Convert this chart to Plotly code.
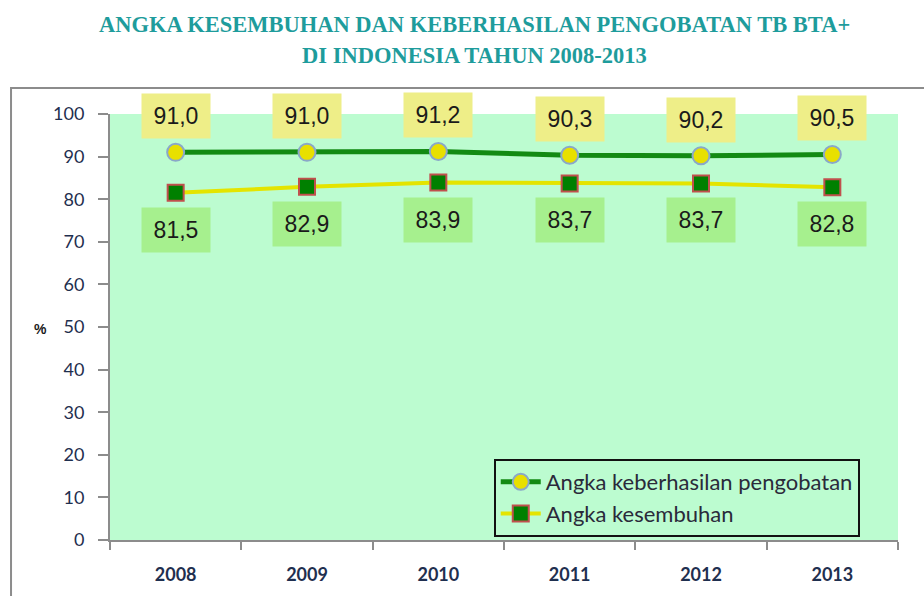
import plotly.graph_objects as go

years = ["2008", "2009", "2010", "2011", "2012", "2013"]
keberhasilan = [91.0, 91.0, 91.2, 90.3, 90.2, 90.5]
kesembuhan = [81.5, 82.9, 83.9, 83.7, 83.7, 82.8]
y_ticks = [0, 10, 20, 30, 40, 50, 60, 70, 80, 90, 100]

name1 = "Angka keberhasilan pengobatan"
name2 = "Angka kesembuhan"

fig = go.Figure()
fig.add_trace(go.Scatter(
    x=years, y=keberhasilan, name=name1, mode="lines+markers",
    line=dict(color="#138a13", width=5),
    marker=dict(symbol="circle", size=17, color="#e8e000",
                line=dict(color="#8aa8c8", width=2)),
))
fig.add_trace(go.Scatter(
    x=years, y=kesembuhan, name=name2, mode="lines+markers",
    line=dict(color="#e4e400", width=4),
    marker=dict(symbol="square", size=16, color="#008000",
                line=dict(color="#c0504d", width=2)),
))

def fmt(v):
    return f"{v:.1f}".replace(".", ",")

for i, v in enumerate(keberhasilan):
    fig.add_annotation(x=i, y=v, text=fmt(v), showarrow=False, yshift=36,
                       bgcolor="#eeee88", width=64, height=40, borderpad=2,
                       font=dict(family="Liberation Sans", size=23, color="#1a1a1a"))
for i, v in enumerate(kesembuhan):
    fig.add_annotation(x=i, y=v, text=fmt(v), showarrow=False, yshift=-37,
                       bgcolor="#a6f08e", width=64, height=40, borderpad=2,
                       font=dict(family="Liberation Sans", size=23, color="#1a1a1a"))

fig.add_annotation(xref="paper", yref="paper", x=-0.099, y=0.495, text="<b>%</b>",
                   showarrow=False, font=dict(family="Liberation Sans", size=14, color="#1a1a1a"))

fig.add_annotation(xref="paper", yref="paper", x=0.463, y=1.0, yshift=90,
                   text="<b>ANGKA KESEMBUHAN DAN KEBERHASILAN PENGOBATAN TB BTA+</b>",
                   showarrow=False, yanchor="middle",
                   font=dict(family="Liberation Serif", size=22.5, color="#1e9c9c"))
fig.add_annotation(xref="paper", yref="paper", x=0.463, y=1.0, yshift=59,
                   text="<b>DI INDONESIA TAHUN 2008-2013</b>",
                   showarrow=False, yanchor="middle",
                   font=dict(family="Liberation Serif", size=22.5, color="#1e9c9c"))

fig.add_shape(type="rect", xref="paper", yref="paper",
              x0=-0.1256, x1=1.05, y0=-0.2, y1=1.061,
              line=dict(color="#8c8c8c", width=2), fillcolor="rgba(0,0,0,0)")

fig.update_layout(
    width=924, height=596,
    margin=dict(l=110, r=26, t=114, b=56),
    paper_bgcolor="white",
    plot_bgcolor="#bcfcd0",
    showlegend=True,
    legend=dict(x=0.487, y=0.19, xanchor="left", yanchor="top",
                bgcolor="#bcfcd0", bordercolor="#111111", borderwidth=2,
                font=dict(family="Lato", size=22, color="#2a2a3a"),
                tracegroupgap=0, itemwidth=40),
    xaxis=dict(type="category", range=[-0.5, 5.5], showgrid=False, showline=True,
               linecolor="#8c8c8c", linewidth=2, ticks="outside", ticklen=8,
               tickcolor="#8c8c8c", tickwidth=2, tickson="boundaries",
               ticklabelstandoff=17, tickangle=0,
               tickfont=dict(family="Lato", size=18, color="#1f2f4f", weight="bold")),
    yaxis=dict(range=[0, 100], tickvals=y_ticks, showgrid=False, showline=True,
               linecolor="#8c8c8c", linewidth=2, ticks="outside", ticklen=10,
               tickcolor="#8c8c8c", tickwidth=2, ticklabelstandoff=10,
               zeroline=False,
               tickfont=dict(family="Lato", size=18, color="#1f2f4f")),
)

fig.write_html("out.html")
